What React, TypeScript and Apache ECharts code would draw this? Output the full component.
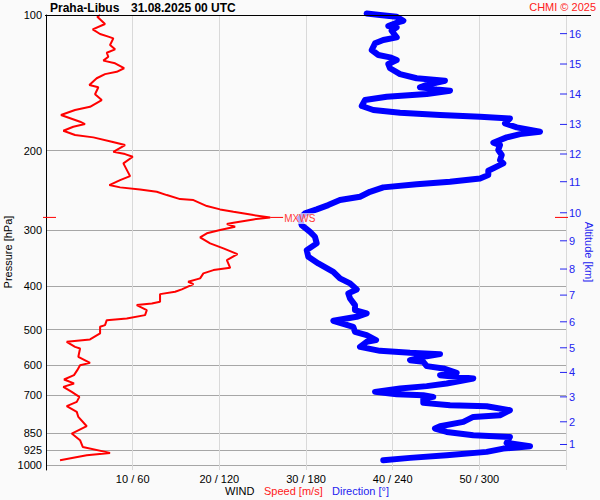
import React, { useEffect, useRef } from "react";
import * as echarts from "echarts";

// Wind speed profile [m/s] vs pressure [hPa]
const speedPressure = [
  100, 100.9, 104.7, 107.6, 110.2, 111.7, 112.7, 116.6, 119.2, 121.3, 123.8, 126.3, 128.0, 131.3, 133.7,
  135.3, 138.2, 143.0, 144.7, 150.0, 154.5, 159.9, 162.6, 166.8, 172.6, 174.7, 177.1, 180.8, 184.8, 187.0,
  191.2, 194.5, 201.3, 203.7, 206.5, 213.6, 228.0, 232.7, 238.7, 241.5, 244.0, 247.0, 251.2, 256.4, 257.7,
  265.7, 270.3, 273.6, 278.3, 281.6, 284.5, 289.5, 291.4, 295.4, 300.4, 305.5, 311.9, 321.6, 329.9, 339.7,
  350.3, 364.4, 368.7, 375.0, 384.7, 391.4, 396.0, 407.0, 412.0, 416.9, 433.6, 437.2, 441.0, 452.5, 464.2,
  472.1, 476.3, 488.6, 492.8, 509.7, 525.6, 532.1, 545.9, 550.4, 574.5, 592.6, 599.6, 615.1, 631.0, 645.1,
  658.3, 669.9, 687.3, 705.2, 723.5, 739.6, 761.5, 781.3, 819.3, 850.6, 880.2, 910.9, 939.1, 950.1, 974.7,
];
const speedValues = [
  6.24, 5.92, 6.81, 5.39, 6.24, 7.19, 7.77, 7.39, 7.97, 7.01, 7.19, 6.62, 7.97, 9.01, 8.16,
  6.81, 5.85, 5.0, 6.04, 5.66, 6.43, 5.08, 3.35, 1.73, 3.93, 4.5, 3.15, 2.0, 3.35, 5.46,
  7.59, 9.12, 7.77, 9.12, 10.01, 8.93, 9.7, 8.55, 7.31, 8.55, 10.85, 12.78, 13.94, 15.47, 17.01,
  18.56, 20.09, 21.63, 23.94, 25.87, 23.94, 21.63, 20.87, 21.82, 20.09, 18.56, 17.78, 18.94, 20.47, 22.09,
  20.87, 21.25, 19.32, 18.16, 17.78, 16.4, 17.01, 15.67, 14.9, 13.16, 13.16, 12.21, 10.47, 11.63, 11.43,
  9.32, 7.01, 6.81, 6.24, 6.24, 5.08, 2.39, 3.35, 3.93, 3.73, 5.08, 3.93, 3.61, 3.23, 2.08,
  3.23, 2.0, 2.97, 3.85, 3.55, 2.39, 3.55, 3.73, 4.7, 2.97, 3.93, 4.24, 7.39, 4.7, 1.62,
];

// Wind direction profile [deg] vs pressure [hPa]
const dirPressure = [
  99.2, 100, 100.9, 103.0, 104.0, 105.8, 106.5, 108.4, 112.1, 113.6, 115.6, 119.6, 122.7, 124.2, 125.9,
  128.5, 131.3, 135.3, 138.2, 140.0, 143.0, 144.7, 146.3, 147.3, 149.8, 151.9, 154.5, 159.3, 162.6, 164.9,
  166.8, 168.3, 169.7, 174.1, 177.7, 181.7, 183.9, 187.0, 192.2, 194.5, 199.5, 204.7, 210.1, 213.6, 221.8,
  226.7, 230.7, 234.6, 237.8, 241.5, 247.0, 253.4, 257.7, 264.4, 270.3, 275.9, 282.6, 292.9, 303.1, 310.9,
  321.6, 332.9, 344.5, 356.4, 371.9, 384.7, 394.6, 407.0, 415.4, 426.2, 441.0, 452.5, 460.2, 468.2, 477.8,
  484.2, 492.8, 505.5, 514.1, 527.4, 532.1, 545.9, 557.2, 562.9, 566.7, 572.6, 584.4, 589.5, 602.6, 609.7,
  623.6, 631.0, 641.7, 658.3, 667.4, 675.4, 687.3, 695.4, 699.0, 705.2, 711.0, 727.1, 735.7, 739.6, 754.9,
  774.5, 781.3, 801.5, 819.3, 829.0, 843.6, 857.9, 865.4, 892.4, 907.8, 918.6, 934.2, 950.1, 963.4, 974.7,
];
const dirValues = [
  222.0, 231.2, 242.8, 247.4, 242.8, 237.0, 242.8, 239.3, 242.8, 233.5, 227.8, 225.5, 230.1, 238.2, 242.8,
  237.0, 238.2, 245.1, 256.6, 276.2, 263.6, 258.9, 270.5, 279.7, 263.6, 235.9, 220.8, 218.6, 226.6, 245.1,
  272.8, 300.5, 321.2, 317.8, 325.9, 342.0, 328.2, 318.9, 309.7, 314.3, 313.1, 315.5, 314.3, 316.6, 306.2,
  306.2, 300.5, 279.7, 256.6, 233.5, 224.3, 217.4, 203.5, 195.4, 187.4, 179.3, 175.8, 177.0, 182.8, 186.2,
  187.4, 180.5, 181.6, 188.5, 198.9, 203.5, 210.5, 215.1, 209.3, 210.5, 213.9, 213.9, 222.0, 215.1, 198.9,
  204.7, 212.7, 213.9, 222.0, 228.5, 222.0, 217.4, 231.2, 252.0, 272.8, 263.6, 252.0, 261.2, 263.6, 275.1,
  284.3, 272.8, 295.8, 277.4, 263.6, 245.1, 227.8, 242.8, 261.2, 268.1, 261.2, 261.2, 279.7, 305.1, 321.2,
  314.3, 295.8, 288.9, 272.8, 269.3, 277.4, 295.8, 321.2, 318.9, 335.1, 316.6, 305.1, 277.4, 252.0, 233.5,
];

const pressureTicks = [100, 200, 300, 400, 500, 600, 700, 850, 925, 1000];
const speedTicks = [10, 20, 30, 40, 50];
const altitudeKm = [1, 2, 3, 4, 5, 6, 7, 8, 9, 10, 11, 12, 13, 14, 15, 16];
const altitudePressure = [899.6, 801, 705.2, 622.3, 548.6, 480.3, 419, 366.7, 317.4, 275, 234.6, 203.6, 175, 149.8, 128.5, 110.0];
const maxWindSpeed = [25.87];
const maxWindPressure = [281.6];
const maxWindLabel = ["MXWS"];

const FONT = "Liberation Sans, Arial, sans-serif";
const BG = "#fafafa";
const BLUE = "#2323f0";
const RED = "#ff2020";

export default function App() {
  const ref = useRef<HTMLDivElement>(null);
  useEffect(() => {
    if (!ref.current) return;
    const chart = echarts.init(ref.current, null, { renderer: "svg" });
    const option: any = {
      animation: false,
      backgroundColor: BG,
      textStyle: { fontFamily: FONT },
      grid: { left: 46, right: 34, top: 15, bottom: 30 },
      xAxis: [
        {
          type: "value",
          min: 0,
          max: 60,
          interval: 10,
          axisLine: { show: false },
          axisTick: { show: false },
          axisLabel: {
            color: "#000",
            fontSize: 11,
            fontFamily: FONT,
            margin: 3,
            formatter: (v: number) => (speedTicks.includes(v) ? `${v} / ${v * 6}` : ""),
          },
          splitLine: { show: true, lineStyle: { color: "#d9d9d9", width: 1 } },
        },
        {
          type: "value",
          min: 0,
          max: 360,
          show: false,
          splitLine: { show: false },
        },
      ],
      yAxis: [
        {
          type: "log",
          logBase: 10,
          min: 100,
          max: 1025,
          inverse: true,
          axisLine: { show: true, lineStyle: { color: "#000", width: 1 } },
          axisTick: { show: false, customValues: pressureTicks },
          axisLabel: {
            customValues: pressureTicks,
            color: "#000",
            fontSize: 11,
            fontFamily: FONT,
            margin: 4,
            formatter: (v: number) => String(Math.round(v)),
          },
          splitLine: { show: true, lineStyle: { color: "#a6a6a6", width: 1 } },
          minorSplitLine: { show: false },
        },
      ],
      series: [
        {
          type: "line",
          name: "Direction",
          xAxisIndex: 1,
          yAxisIndex: 0,
          data: dirValues.map((d, i) => [d, dirPressure[i]]),
          showSymbol: false,
          symbol: "none",
          clip: false,
          lineStyle: { color: "#0000ff", width: 6, cap: "round", join: "round" },
          z: 3,
        },
        {
          type: "line",
          name: "Speed",
          xAxisIndex: 0,
          yAxisIndex: 0,
          data: speedValues.map((s, i) => [s, speedPressure[i]]),
          showSymbol: false,
          symbol: "none",
          lineStyle: { color: "#ff0000", width: 2 },
          z: 4,
        },
        {
          type: "custom",
          xAxisIndex: 0,
          yAxisIndex: 0,
          clip: false,
          silent: true,
          z: 6,
          data: altitudeKm.map((k, i) => [60, altitudePressure[i], k]),
          renderItem: (params: any, api: any) => {
            const pt = api.coord([api.value(0), api.value(1)]);
            return {
              type: "group",
              children: [
                {
                  type: "line",
                  shape: { x1: pt[0] - 6, y1: pt[1], x2: pt[0] + 1, y2: pt[1] },
                  style: { stroke: BLUE, lineWidth: 1 },
                },
                {
                  type: "text",
                  x: pt[0] + 3,
                  y: pt[1],
                  style: {
                    text: String(api.value(2)),
                    fill: BLUE,
                    font: `11px ${FONT}`,
                    align: "left",
                    verticalAlign: "middle",
                  },
                },
              ],
            };
          },
        },
        {
          type: "custom",
          xAxisIndex: 0,
          yAxisIndex: 0,
          clip: false,
          silent: true,
          z: 7,
          data: maxWindSpeed.map((s, i) => [s, maxWindPressure[i], i]),
          renderItem: (params: any, api: any) => {
            const pt = api.coord([api.value(0), api.value(1)]);
            const left = api.coord([0, api.value(1)]);
            const right = api.coord([60, api.value(1)]);
            return {
              type: "group",
              children: [
                {
                  type: "line",
                  shape: { x1: left[0] - 3, y1: pt[1], x2: left[0] + 10, y2: pt[1] },
                  style: { stroke: "#ff0000", lineWidth: 1 },
                },
                {
                  type: "line",
                  shape: { x1: right[0] - 11, y1: pt[1], x2: right[0] + 2, y2: pt[1] },
                  style: { stroke: "#ff0000", lineWidth: 1 },
                },
                {
                  type: "line",
                  shape: { x1: pt[0], y1: pt[1], x2: pt[0] + 13, y2: pt[1] },
                  style: { stroke: "#ff0000", lineWidth: 1 },
                },
                {
                  type: "text",
                  x: pt[0] + 13,
                  y: pt[1] + 1,
                  style: {
                    text: maxWindLabel[api.value(2)],
                    fill: "#ff3b3b",
                    font: `10px ${FONT}`,
                    align: "left",
                    verticalAlign: "middle",
                    backgroundColor: "rgba(250,250,250,0.7)",
                    padding: [1, 1, 0, 1],
                  },
                },
              ],
            };
          },
        },
      ],
      graphic: [
        {
          type: "line",
          shape: { x1: 45, y1: 15.5, x2: 591, y2: 15.5 },
          style: { stroke: "#000", lineWidth: 1 },
          z: 10,
        },
        {
          type: "text",
          x: 50,
          y: 8,
          style: { text: "Praha-Libus", font: `bold 12px ${FONT}`, fill: "#000", verticalAlign: "middle" },
        },
        {
          type: "text",
          x: 131,
          y: 8,
          style: { text: "31.08.2025 00 UTC", font: `bold 12px ${FONT}`, fill: "#000", verticalAlign: "middle" },
        },
        {
          type: "text",
          x: 596,
          y: 7,
          style: { text: "CHMI © 2025", font: `11px ${FONT}`, fill: RED, align: "right", verticalAlign: "middle" },
        },
        {
          type: "text",
          x: 8,
          y: 252,
          rotation: Math.PI / 2,
          style: { text: "Pressure [hPa]", font: `11px ${FONT}`, fill: "#000", align: "center", verticalAlign: "middle" },
        },
        {
          type: "text",
          x: 589,
          y: 252,
          rotation: -Math.PI / 2,
          style: { text: "Altitude [km]", font: `11px ${FONT}`, fill: BLUE, align: "center", verticalAlign: "middle" },
        },
        {
          type: "text",
          x: 225,
          y: 491,
          style: { text: "WIND", font: `11px ${FONT}`, fill: "#000", verticalAlign: "middle" },
        },
        {
          type: "text",
          x: 264,
          y: 491,
          style: { text: "Speed [m/s]", font: `11px ${FONT}`, fill: RED, verticalAlign: "middle" },
        },
        {
          type: "text",
          x: 332,
          y: 491,
          style: { text: "Direction [°]", font: `11px ${FONT}`, fill: BLUE, verticalAlign: "middle" },
        },
      ],
    };
    chart.setOption(option);
    return () => chart.dispose();
  }, []);
  return (
    <div
      ref={ref}
      style={{ position: "fixed", left: 0, top: 0, width: 600, height: 500, background: BG }}
    />
  );
}
